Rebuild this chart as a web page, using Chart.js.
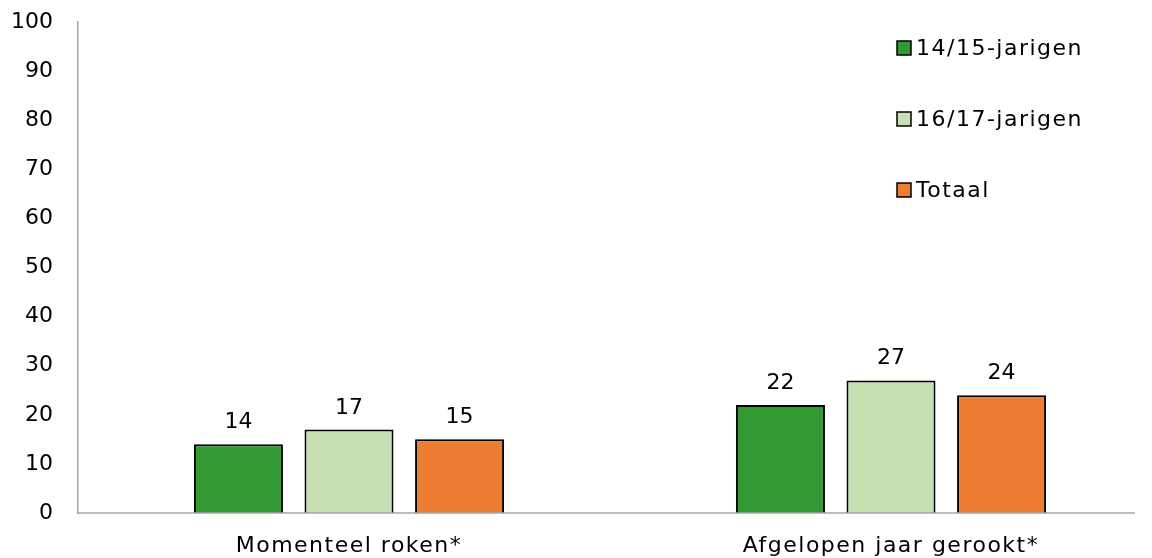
<!DOCTYPE html>
<html lang="nl">
	<head>
		<meta charset="UTF-8" />
		<title>Roken</title>
		<script src="https://cdn.jsdelivr.net/npm/chart.js"></script>
		<style>
			html, body { margin: 0; padding: 0; background: #fff; overflow: hidden; }
			/* plot runs a little past the window edge, like the original */
			#wrap { position: relative; width: 1162px; height: 558px; }
		</style>
	</head>

	<body>
		<div id="wrap"><canvas id="myChart"></canvas></div>
	</body>
	<script>
		const categories = ["Momenteel roken*", "Afgelopen jaar gerookt*"];
		const seriesNames = ["14/15-jarigen", "16/17-jarigen", "Totaal"];
		const age1415 = [14, 22];
		const age1617 = [17, 27];
		const totaal = [15, 24];
		const yTicks = [0, 10, 20, 30, 40, 50, 60, 70, 80, 90, 100];

		const colors = ["#339933", "#c6e0b4", "#ed7d31"];
		const FONT = "'DejaVu Sans', Verdana, sans-serif";
		const FS = 22;
		const SPACING = "1.5px"; // DejaVu is a bit narrower than the Verdana of the original

		// value labels above the bars
		const valueLabels = {
			id: "valueLabels",
			afterDatasetsDraw(chart) {
				const ctx = chart.ctx;
				ctx.save();
				ctx.font = FS + "px " + FONT;
				ctx.fillStyle = "#000";
				ctx.textAlign = "center";
				ctx.textBaseline = "alphabetic";
				chart.data.datasets.forEach((ds, i) => {
					chart.getDatasetMeta(i).data.forEach((bar, j) => {
						ctx.fillText(ds.data[j], bar.x, bar.y - 16);
					});
				});
				ctx.restore();
			},
		};

		// category labels under the axis
		const catLabels = {
			id: "catLabels",
			afterDraw(chart) {
				const ctx = chart.ctx;
				const x = chart.scales.x;
				ctx.save();
				ctx.font = FS + "px " + FONT;
				ctx.letterSpacing = SPACING;
				ctx.fillStyle = "#000";
				ctx.textAlign = "center";
				ctx.textBaseline = "alphabetic";
				chart.data.labels.forEach((lab, i) => {
					ctx.fillText(lab, x.getPixelForValue(i), 552);
				});
				ctx.restore();
			},
		};

		// vertical legend inside the plot, top right
		const sideLegend = {
			id: "sideLegend",
			afterDraw(chart) {
				const ctx = chart.ctx;
				const x = 897, y0 = 55, step = 71;
				ctx.save();
				ctx.font = FS + "px " + FONT;
				ctx.letterSpacing = SPACING;
				ctx.textBaseline = "alphabetic";
				chart.data.datasets.forEach((ds, i) => {
					const y = y0 + i * step;
					ctx.fillStyle = ds.backgroundColor;
					ctx.fillRect(x, y - 14, 14, 14);
					ctx.lineWidth = 1.5;
					ctx.strokeStyle = "#000";
					ctx.strokeRect(x, y - 14, 14, 14);
					ctx.fillStyle = "#000";
					ctx.fillText(ds.label, x + 19, y);
				});
				ctx.restore();
			},
		};

		// bottom axis line (stops short of the right edge)
		const baseLine = {
			id: "baseLine",
			afterDraw(chart) {
				const a = chart.chartArea;
				const y = chart.scales.y.getPixelForValue(0);
				const ctx = chart.ctx;
				ctx.save();
				ctx.strokeStyle = "#a6a6a6";
				ctx.lineWidth = 1.5;
				ctx.beginPath();
				ctx.moveTo(a.left, y);
				ctx.lineTo(1135, y);
				ctx.stroke();
				ctx.restore();
			},
		};

		const ctx = document.getElementById("myChart");
		const myChart = new Chart(ctx, {
			type: "bar",
			data: {
				labels: categories,
				datasets: [
					{ label: seriesNames[0], data: age1415, backgroundColor: colors[0] },
					{ label: seriesNames[1], data: age1617, backgroundColor: colors[1] },
					{ label: seriesNames[2], data: totaal, backgroundColor: colors[2] },
				].map((d) => ({
					...d,
					borderColor: "#000",
					borderWidth: 2,
					categoryPercentage: 0.612,
					barPercentage: 0.805,
				})),
			},
			options: {
				responsive: true,
				maintainAspectRatio: false,
				animation: false,
				layout: { autoPadding: false, padding: { top: 22, left: 0, right: 0, bottom: 0 } },
				plugins: {
					legend: { display: false },
					tooltip: { enabled: false },
				},
				scales: {
					x: {
						afterFit: (s) => { s.height = 45; },
						grid: { display: false, drawTicks: false },
						border: { display: false },
						ticks: { display: false },
					},
					y: {
						min: 0,
						max: 100,
						afterFit: (s) => {
							s.width = 78;
							s.paddingTop = 0;
							s.paddingBottom = 0;
						},
						afterBuildTicks: (s) => { s.ticks = yTicks.map((v) => ({ value: v })); },
						grid: { display: false, drawTicks: false },
						border: { display: true, color: "#a6a6a6", width: 1.5 },
						ticks: { color: "#000", font: { family: FONT, size: FS }, padding: 25 },
					},
				},
			},
			plugins: [valueLabels, catLabels, sideLegend, baseLine],
		});
	</script>
</html>
